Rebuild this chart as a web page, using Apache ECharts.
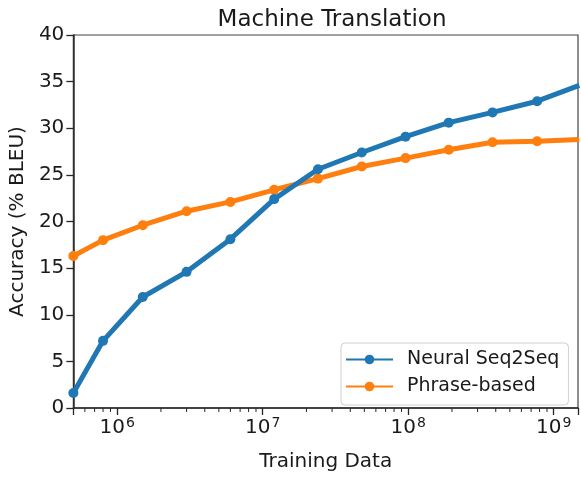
<!DOCTYPE html>
<html>
<head>
<meta charset="utf-8">
<script src="https://cdn.jsdelivr.net/npm/echarts@6/dist/echarts.min.js"></script>
<style>html,body{margin:0;padding:0;background:#fff}#c{width:581px;height:477px}</style>
</head>
<body>
<div id="c"></div>
<script>
// Training data sizes (x, log scale)
const trainingData = [5e5, 8e5, 1.5e6, 3e6, 6e6, 1.2e7, 2.4e7, 4.8e7, 9.6e7, 1.9e8, 3.8e8, 7.7e8, 1.5e9];
// Accuracy (% BLEU)
const neuralSeq2Seq = [1.6, 7.2, 11.9, 14.6, 18.1, 22.4, 25.6, 27.4, 29.1, 30.6, 31.7, 32.9, 34.6];
const phraseBased  = [16.3, 18.0, 19.6, 21.1, 22.1, 23.4, 24.6, 25.9, 26.8, 27.7, 28.5, 28.6, 28.8];
// Axis settings
const xMin = 5e5, xMax = 1.47e9;
const yTicks = [0, 5, 10, 15, 20, 25, 30, 35, 40];
const minorTickValues = [];
[5, 6, 7, 8].forEach(function (e) {
  for (let m = 2; m <= 9; m++) {
    const v = m * Math.pow(10, e);
    if (v > xMin && v < xMax) minorTickValues.push(v);
  }
});

const FONT = 'DejaVu Sans';
const AX = '#262626';
const TXT = '#1a1a1a';
const chart = echarts.init(document.getElementById('c'), null, { renderer: 'canvas' });
chart.setOption({
  animation: false,
  backgroundColor: '#fff',
  title: {
    text: 'Machine Translation',
    left: 327, top: 4, textAlign: 'center',
    textStyle: { fontFamily: FONT, fontSize: 23, fontWeight: 'normal', color: TXT }
  },
  grid: { left: 71, top: 35, right: -1, bottom: 59, show: true, borderColor: '#444', borderWidth: 1.2, containLabel: false },
  legend: {
    orient: 'vertical', left: 341, top: 343,
    backgroundColor: '#fff', borderColor: '#d0d0d0', borderWidth: 1, borderRadius: 4,
    padding: [7, 9, 9, 4], itemWidth: 47, itemHeight: 12, itemGap: 8,
    textStyle: { fontFamily: FONT, fontSize: 19, color: TXT, padding: [0, 0, 0, 9] },
    data: ['Neural Seq2Seq', 'Phrase-based']
  },
  xAxis: {
    type: 'log', logBase: 10, min: xMin, max: xMax,
    name: 'Training Data', nameLocation: 'middle', nameGap: 44,
    nameTextStyle: { fontFamily: FONT, fontSize: 20, color: TXT },
    axisLine: { lineStyle: { color: AX, width: 1.5 } },
    axisTick: { length: 7, lineStyle: { color: AX, width: 1.3 } },
    splitLine: { show: false },
    axisLabel: {
      margin: 8, color: TXT, fontFamily: FONT, fontSize: 20,
      formatter: function (v) {
        const l = Math.log10(v);
        if (Math.abs(l - Math.round(l)) > 1e-6) return '';
        return '{b|10}{s|' + Math.round(l) + '}';
      },
      rich: {
        b: { fontFamily: FONT, fontSize: 20, color: TXT },
        s: { fontFamily: FONT, fontSize: 14, color: TXT, padding: [0, 0, 9, 1] }
      }
    }
  },
  yAxis: {
    type: 'value', min: 0, max: 40, interval: 5,
    name: 'Accuracy (% BLEU)', nameLocation: 'middle', nameGap: 44,
    nameTextStyle: { fontFamily: FONT, fontSize: 20, color: TXT },
    axisLine: { show: true, lineStyle: { color: AX, width: 1.5 } },
    axisTick: { show: true, length: 7, lineStyle: { color: AX, width: 1.3 } },
    splitLine: { show: false },
    axisLabel: { margin: 9, color: TXT, fontFamily: FONT, fontSize: 20,
      formatter: function (v) { return yTicks.indexOf(v) >= 0 ? String(v) : ''; } }
  },
  series: [
    {
      name: 'Neural Seq2Seq', type: 'line',
      data: trainingData.map(function (x, i) { return [x, neuralSeq2Seq[i]]; }),
      symbol: 'circle', symbolSize: 10, showAllSymbol: true,
      itemStyle: { color: '#1f77b4' }, lineStyle: { color: '#1f77b4', width: 5 },
      clip: true, z: 3
    },
    {
      name: 'Phrase-based', type: 'line',
      data: trainingData.map(function (x, i) { return [x, phraseBased[i]]; }),
      symbol: 'circle', symbolSize: 10, showAllSymbol: true,
      itemStyle: { color: '#ff7f0e' }, lineStyle: { color: '#ff7f0e', width: 5 },
      clip: true, z: 2
    },
    {
      name: 'minorTicks', type: 'custom', silent: true, clip: false,
      data: minorTickValues.map(function (v) { return [v, 0]; }),
      renderItem: function (params, api) {
        const p = api.coord([api.value(0), 0]);
        return { type: 'line', shape: { x1: p[0], y1: p[1], x2: p[0], y2: p[1] + 4 },
                 style: { stroke: AX, lineWidth: 1 } };
      }
    }
  ]
});
</script>
</body>
</html>
